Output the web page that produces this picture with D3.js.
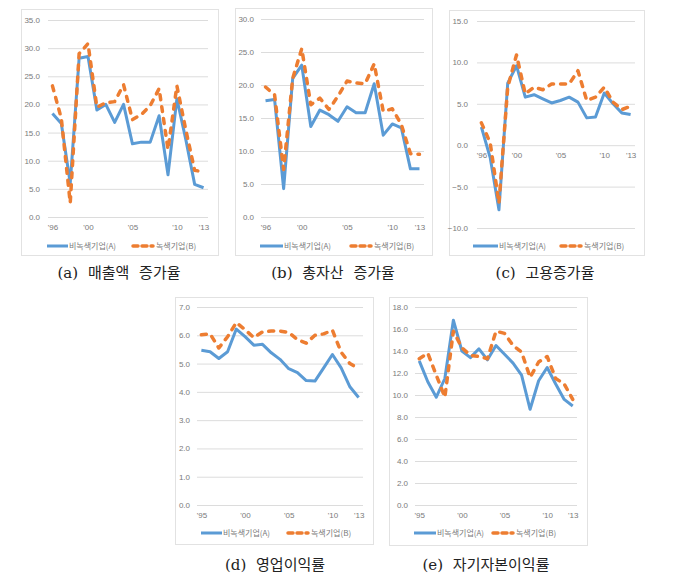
<!DOCTYPE html>
<html><head><meta charset="utf-8">
<script src="https://cdn.jsdelivr.net/npm/d3@7"></script>
<style>
html,body{margin:0;padding:0;background:#fff;}
svg{display:block;}
text{font-family:"Noto Sans CJK KR","Noto Sans",sans-serif;}
</style></head>
<body>
<svg id="c" width="680" height="579"></svg>
<script>
// ---- DATA ----
const years96 = [1996,1997,1998,1999,2000,2001,2002,2003,2004,2005,2006,2007,2008,2009,2010,2011,2012,2013];
const years95 = [1995,1996,1997,1998,1999,2000,2001,2002,2003,2004,2005,2006,2007,2008,2009,2010,2011,2012,2013];

const salesA  = [18.4,16.6,6.0,28.2,28.5,19.0,20.0,16.8,20.0,13.0,13.3,13.3,18.0,7.5,21.0,13.8,5.8,5.2];
const salesB  = [23.3,17.5,2.5,29.0,30.8,19.5,20.3,20.5,23.5,17.3,18.2,19.8,22.8,12.0,23.3,15.5,8.3,8.0];

const assetA  = [17.6,17.8,4.3,21.0,23.0,13.7,16.2,15.5,14.5,16.7,15.8,15.8,20.2,12.4,14.1,13.5,7.3,7.3];
const assetB  = [19.7,18.5,7.2,21.0,25.5,17.0,18.0,16.3,18.3,20.6,20.3,20.2,23.2,16.0,16.4,14.0,9.6,9.5];

const emplA   = [2.2,-1.5,-7.8,7.5,9.6,5.8,6.1,5.6,5.1,5.4,5.8,5.2,3.3,3.4,6.3,5.0,3.9,3.7];
const emplB   = [2.7,0.3,-7.0,7.0,10.9,6.2,7.0,6.7,7.4,7.4,7.4,9.0,5.4,5.8,7.0,5.2,4.3,4.7];

const opA     = [5.47,5.42,5.18,5.42,6.22,5.95,5.65,5.68,5.38,5.15,4.82,4.68,4.40,4.38,4.85,5.32,4.85,4.18,3.80];
const opB     = [6.02,6.05,5.55,5.95,6.45,6.20,5.92,6.12,6.15,6.15,6.10,5.85,5.72,6.00,6.05,6.18,5.40,5.00,4.82];

const roeA    = [13.1,11.2,9.8,11.5,16.8,14.0,13.4,14.2,13.2,14.5,13.7,12.9,11.8,8.7,11.3,12.5,11.0,9.6,9.0];
const roeB    = [13.3,13.8,11.8,9.8,15.8,14.3,13.6,13.5,13.3,15.8,15.6,14.5,13.9,11.6,13.0,13.5,11.5,11.0,9.6];

const xTicks96 = [1996,2000,2005,2010,2013];
const xLabels96 = ["'96","'00","'05","'10","'13"];
const xTicks95 = [1995,2000,2005,2010,2013];
const xLabels95 = ["'95","'00","'05","'10","'13"];

const yTicksSales = [0,5,10,15,20,25,30,35];
const yTicksAsset = [0,5,10,15,20,25,30];
const yTicksEmpl  = [-10,-5,0,5,10,15];
const yTicksOp    = [0,1,2,3,4,5,6,7];
const yTicksRoe   = [0,2,4,6,8,10,12,14,16,18];

const seriesNames = ["비녹색기업(A)","녹색기업(B)"];
const captions = ["(a) 매출액 증가율","(b) 총자산 증가율","(c) 고용증가율","(d) 영업이익률","(e) 자기자본이익률"];

const blue = "#5b9bd5", orange = "#ed7d31";

// ---- LAYOUT ----
const panels = [
  {years:years96, A:salesA, B:salesB, xt:xTicks96, xl:xLabels96, yt:yTicksSales,
   box:[21,9,218,255], gx:[48,208], gy:[217,20], lab:40, legY:246, leg:[47,68,131], cap:[119,273]},
  {years:years96, A:assetA, B:assetB, xt:xTicks96, xl:xLabels96, yt:yTicksAsset,
   box:[235,8,432,255], gx:[261,424], gy:[217,19], lab:254, legY:246, leg:[260,283,349], cap:[333,273]},
  {years:years96, A:emplA, B:emplB, xt:xTicks96, xl:xLabels96, yt:yTicksEmpl,
   box:[449,10,644,255], gx:[477,635], gy:[228,21], lab:468, legY:246, leg:[473,498,559], cap:[545,273]},
  {years:years95, A:opA, B:opB, xt:xTicks95, xl:xLabels95, yt:yTicksOp,
   box:[175,297,373,544], gx:[197,363], gy:[505,307], lab:190, legY:533, leg:[201,222,286], cap:[275,565]},
  {years:years95, A:roeA, B:roeB, xt:xTicks95, xl:xLabels95, yt:yTicksRoe,
   box:[389,297,587,545], gx:[415,577], gy:[505,307], lab:408, legY:533, leg:[414,436,491], cap:[486,565]}
];

const svg = d3.select("#c");

panels.forEach((p,i) => {
  const g = svg.append("g");
  // frame
  g.append("rect").attr("x",p.box[0]+0.5).attr("y",p.box[1]+0.5)
    .attr("width",p.box[2]-p.box[0]).attr("height",p.box[3]-p.box[1])
    .attr("fill","#fff").attr("stroke","#e2e2e2").attr("stroke-width",1);

  const x = d3.scalePoint().domain(p.years).range(p.gx).padding(0.5);
  const y = d3.scaleLinear().domain(d3.extent(p.yt)).range(p.gy);

  // y grid + labels
  const ya = g.append("g").attr("transform",`translate(${p.gx[0]},0)`)
    .call(d3.axisLeft(y).tickValues(p.yt).tickFormat(d3.format(".1f"))
      .tickSize(-(p.gx[1]-p.gx[0])).tickPadding(p.gx[0]-p.lab));
  ya.select(".domain").remove();
  ya.selectAll(".tick line").attr("stroke","#dcdcdc").attr("stroke-width",1);
  ya.selectAll(".tick text").attr("fill","#7a7a7a").style("font-size","8px")
    .style("font-family","'Liberation Sans',sans-serif");

  // x labels
  const xa = g.append("g").attr("transform",`translate(0,${y(0)})`)
    .call(d3.axisBottom(x).tickValues(p.xt)
      .tickFormat(d => p.xl[p.xt.indexOf(d)]).tickSize(0).tickPadding(7));
  xa.select(".domain").remove();
  xa.selectAll(".tick text").attr("fill","#7a7a7a").style("font-size","8px")
    .style("font-family","'Liberation Sans',sans-serif");

  const line = d3.line().x((d,j)=>x(p.years[j])).y(d=>y(d));
  g.append("path").datum(p.A).attr("d",line).attr("fill","none")
    .attr("stroke",blue).attr("stroke-width",3).attr("stroke-linejoin","round");
  g.append("path").datum(p.B).attr("d",line).attr("fill","none")
    .attr("stroke",orange).attr("stroke-width",3.5).attr("stroke-linejoin","round")
    .attr("stroke-linecap","round").attr("stroke-dasharray","5,7");

  // legend
  const ly = p.legY;
  g.append("line").attr("x1",p.leg[0]).attr("x2",p.leg[1]).attr("y1",ly).attr("y2",ly)
    .attr("stroke",blue).attr("stroke-width",3);
  g.append("text").attr("x",p.leg[1]+1).attr("y",ly).attr("dy","0.35em")
    .attr("fill","#7a7a7a").style("font-size","8px").text(seriesNames[0]);
  g.append("line").attr("x1",p.leg[2]+2).attr("x2",p.leg[2]+22).attr("y1",ly).attr("y2",ly)
    .attr("stroke",orange).attr("stroke-width",3.5).attr("stroke-linecap","round")
    .attr("stroke-dasharray","5,4");
  g.append("text").attr("x",p.leg[2]+25).attr("y",ly).attr("dy","0.35em")
    .attr("fill","#7a7a7a").style("font-size","8px").text(seriesNames[1]);

  // caption
  svg.append("text").attr("x",p.cap[0]).attr("y",p.cap[1]).attr("dy","0.35em")
    .attr("text-anchor","middle").attr("fill","#222")
    .style("font-family","'DejaVu Serif','Noto Sans CJK KR',serif")
    .style("font-size","15px").style("word-spacing","5px")
    .text(captions[i]);
});
</script>
</body></html>
